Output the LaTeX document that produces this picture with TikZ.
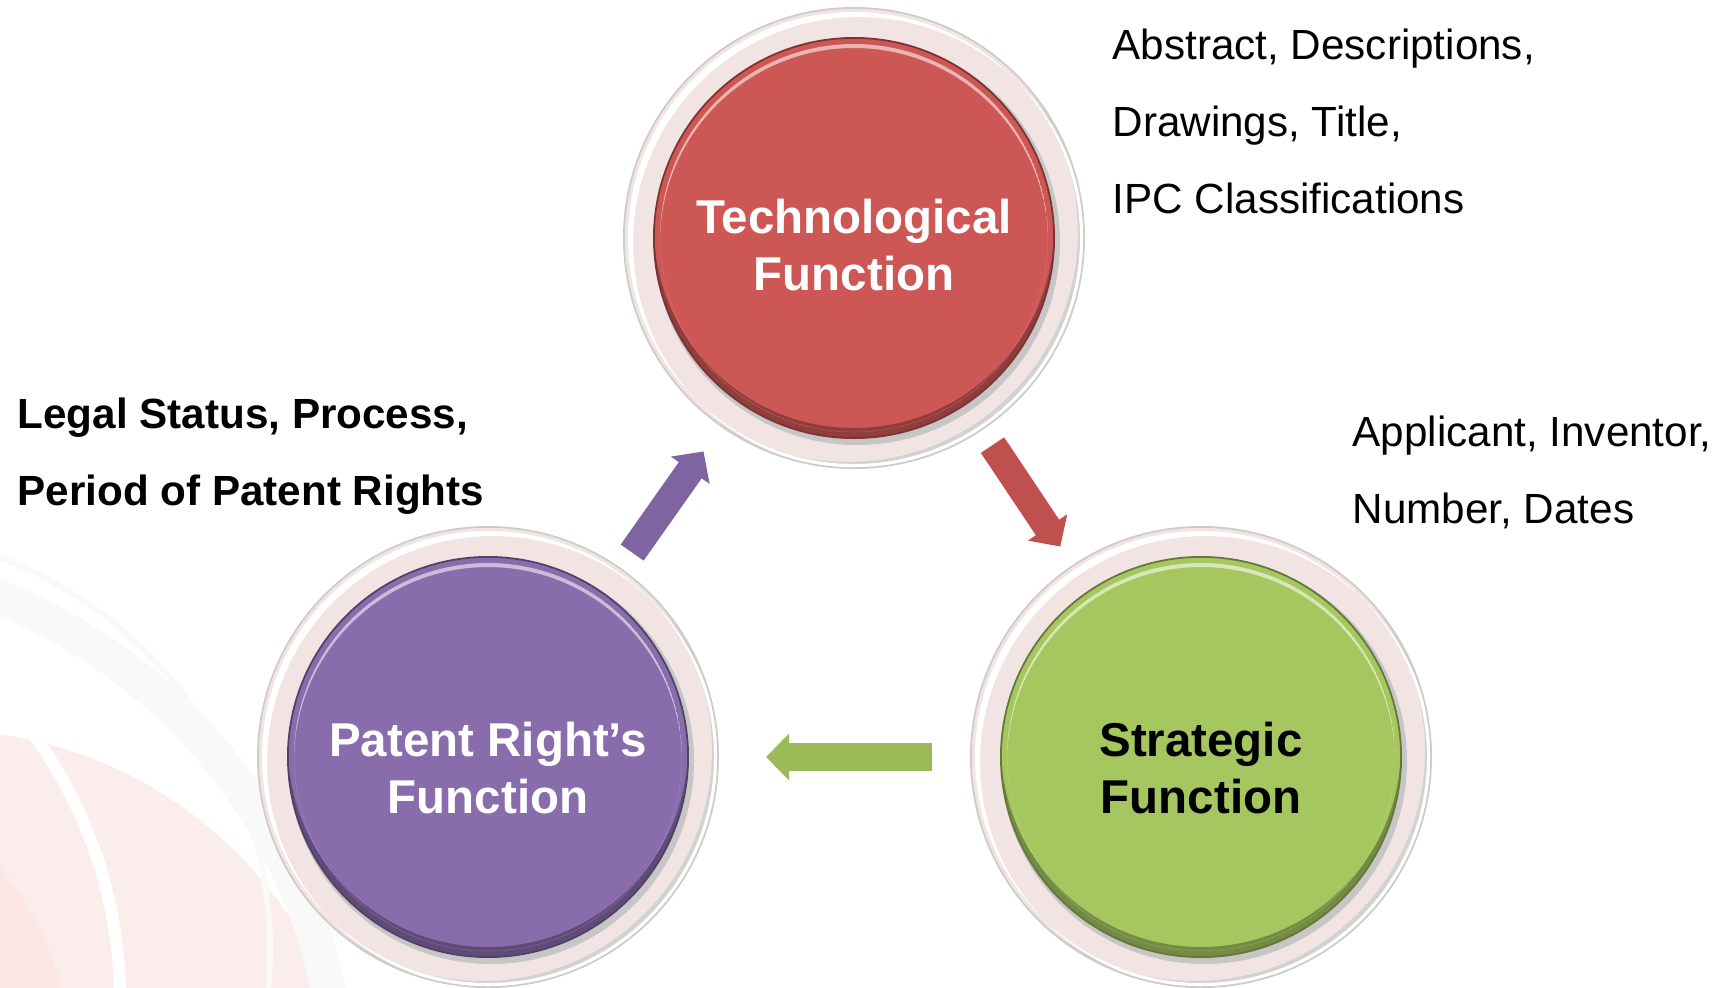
\documentclass[tikz,border=0pt]{standalone}
\usepackage{fontspec}
\setmainfont{Liberation Sans}
\usetikzlibrary{arrows.meta, calc}
\definecolor{techred}{RGB}{205, 87, 85}
\definecolor{patpurple}{RGB}{137, 108, 172}
\definecolor{stratgreen}{RGB}{166, 199, 95}
\definecolor{arrowred}{RGB}{192, 80, 77}
\definecolor{arrowpurple}{RGB}{128, 100, 162}
\definecolor{arrowgreen}{RGB}{155, 187, 89}
\definecolor{ringpink}{RGB}{243, 228, 228}
\definecolor{decopink}{RGB}{249, 215, 215}

\begin{document}
\begin{tikzpicture}[x=0.01cm, y=-0.01cm,
  ring/.style={circle, minimum size=4.6cm, inner sep=0pt, outer sep=0pt, fill=ringpink, draw=gray!40, line width=0.5pt,
    path picture={
      \fill[gray!35, even odd rule] (path picture bounding box.center) circle (230) ([shift={(-0.06cm,0.06cm)}]path picture bounding box.center) circle (230);
      \fill[white, even odd rule] (path picture bounding box.center) circle (226) ([shift={(0.05cm,-0.05cm)}]path picture bounding box.center) circle (226);
      \fill[gray!45] ([shift={(0.03cm,-0.04cm)}]path picture bounding box.center) circle (203);
    }},
  func/.style={circle, minimum size=4cm, inner sep=0pt, outer sep=0pt, fill=#1, draw=#1!60!black, line width=0.5pt,
    path picture={
      \fill[#1!70!black, even odd rule] (path picture bounding box.center) circle (200) ([yshift=0.1cm]path picture bounding box.center) circle (200);
      \begin{scope}
        \clip (path picture bounding box.center) circle (194);
        \fill[#1!45!white, even odd rule] (path picture bounding box.center) circle (194) ([yshift=-0.04cm]path picture bounding box.center) circle (194);
      \end{scope}
    }},
  functext/.style={align=center, inner sep=0pt, text=white, font=\bfseries\fontsize{13.5}{16.4}\selectfont},
  fatarrow/.style={line width=0.28cm, draw=#1, -{Triangle[width=0.46cm, length=0.23cm]}},
  info/.style={anchor=north west, align=left, inner sep=0pt}
]
  \useasboundingbox (0,0) rectangle (1730,987);

  % faint background arcs
  \begin{scope}
    \clip (0,0) rectangle (1730,987);
    \fill[decopink, opacity=0.45] (-60,1150) circle (420);
    \fill[decopink, opacity=0.35] (-230,1060) circle (300);
    \draw[gray!5, line width=0.35cm] (-200,1100) circle (540);
    \draw[gray!5, line width=0.06cm] (-150,950) circle (420);
    \draw[white, line width=0.12cm] (-330,1000) circle (450);
  \end{scope}

  % rings
  \node[ring] (techring) at (854,238) {};
  \node[ring] (patring) at (488,757) {};
  \node[ring] (stratring) at (1201,757) {};

  % functions
  \node[func=techred] (tech) at (854,238) {};
  \node[func=patpurple] (pat) at (488,757) {};
  \node[func=stratgreen] (strat) at (1201,757) {};
  \node[functext] (techtext) at (854,245) {Technological\\Function};
  \node[functext] (pattext) at (488,768) {Patent Right’s\\Function};
  \node[functext, text=black] (strattext) at (1201,768) {Strategic\\Function};

  % cycle
  \draw[fatarrow=arrowpurple, shorten <=0.2cm, shorten >=0.31cm] (patring) -- (techring);
  \draw[fatarrow=arrowred, shorten <=0.19cm, shorten >=0.23cm] (techring) -- (stratring);
  \draw[fatarrow=arrowgreen, shorten <=0.39cm, shorten >=0.48cm] (stratring) -- (patring);

  % data fields
  \node[info, font=\fontsize{12}{21.9}\selectfont] (techinfo) at (1112,28) {Abstract, Descriptions,\\Drawings, Title,\\IPC Classifications};
  \node[info, font=\fontsize{12}{21.9}\selectfont] (stratinfo) at (1352,415) {Applicant, Inventor,\\Number, Dates};
  \node[info, font=\bfseries\fontsize{12}{21.9}\selectfont] (patinfo) at (17,397) {Legal Status, Process,\\Period of Patent Rights};
\end{tikzpicture}
\end{document}
